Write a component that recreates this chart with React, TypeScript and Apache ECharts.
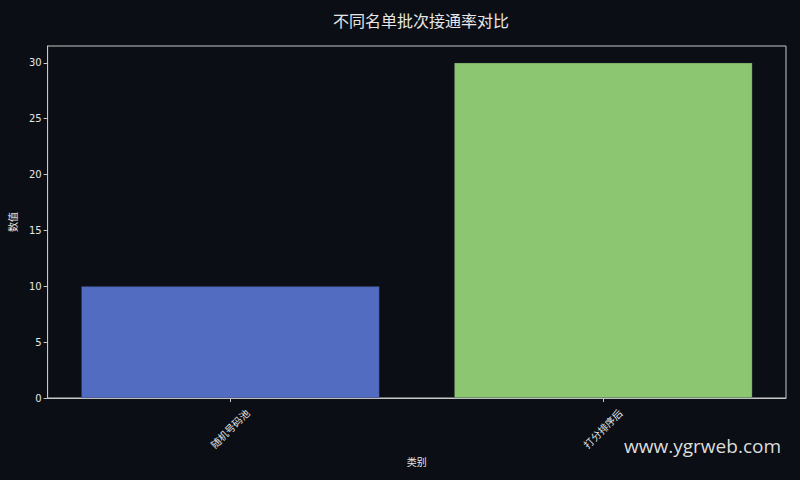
import * as React from 'react';
import * as echarts from 'echarts';

// chart data
const categories = ['随机号码池', '打分排序后'];
const values = [10, 30];
const barColors = ['#5470c6', '#91cc75'];
const yTicks = [0, 5, 10, 15, 20, 25, 30];

const FONT = "'DejaVu Sans', 'Noto Sans CJK SC', sans-serif";
const TEXT = '#e6e6e6';
const SPINE = '#c8c8c8';

export default function App() {
  const chartRef = React.useRef<HTMLDivElement>(null);

  React.useEffect(() => {
    document.body.style.margin = '0';
    document.body.style.background = '#0b0e14';
    if (!chartRef.current) return;
    const chart = echarts.init(chartRef.current, undefined, { renderer: 'svg' });

    // x positions of categories (index), padded like matplotlib's 5% margin
    const xIdx = categories.map((_, i) => i);

    chart.setOption({
      animation: false,
      backgroundColor: '#0b0e14',
      title: {
        text: '不同名单批次接通率对比',
        left: 416,
        top: 7,
        textAlign: 'center',
        textStyle: {
          color: TEXT,
          fontSize: 16,
          fontWeight: 'normal',
          fontFamily: "'Noto Sans CJK SC', sans-serif",
        },
      },
      grid: {
        left: 46,
        right: 14,
        top: 46,
        bottom: 82,
        show: true,
        borderColor: SPINE,
        borderWidth: 1,
        backgroundColor: 'transparent',
      },
      xAxis: {
        type: 'value',
        min: -0.49,
        max: 1.49,
        name: '类别',
        nameLocation: 'middle',
        nameGap: 59,
        nameTextStyle: { color: TEXT, fontSize: 10, fontFamily: FONT },
        axisLine: { show: true, onZero: false, lineStyle: { color: SPINE, width: 1 } },
        axisTick: { show: true, length: 4, lineStyle: { color: SPINE }, customValues: xIdx },
        axisLabel: {
          rotate: 45,
          align: 'center',
          verticalAlign: 'middle',
          color: TEXT,
          fontSize: 10,
          margin: 31,
          fontFamily: FONT,
          customValues: xIdx,
          formatter: (v: number) => categories[Math.round(v)] ?? '',
        },
        splitLine: { show: false },
      },
      yAxis: {
        type: 'value',
        min: 0,
        max: 31.5,
        name: '数值',
        nameLocation: 'middle',
        nameGap: 28,
        nameTextStyle: { color: TEXT, fontSize: 10, fontFamily: FONT },
        axisLine: { show: true, onZero: false, lineStyle: { color: SPINE, width: 1 } },
        axisTick: { show: true, length: 4, lineStyle: { color: SPINE }, customValues: yTicks },
        axisLabel: {
          color: TEXT,
          fontSize: 10,
          margin: 6,
          fontFamily: FONT,
          customValues: yTicks,
        },
        splitLine: { show: false },
      },
      series: [
        {
          type: 'bar',
          barWidth: '80%',
          data: values.map((v, i) => ({
            value: [xIdx[i], v],
            itemStyle: {
              color: barColors[i],
              opacity: 0.97,
              borderColor: 'rgba(40,50,70,0.5)',
              borderWidth: 0.6,
            },
          })),
        },
      ],
      graphic: [
        {
          type: 'text',
          right: 19,
          top: 436,
          style: {
            text: 'www.ygrweb.com',
            fill: '#dcdcdc',
            fontSize: 19,
            fontFamily: "'Open Sans', 'Noto Sans', sans-serif",
          },
        },
      ],
    });

    return () => chart.dispose();
  }, []);

  return <div ref={chartRef} style={{ width: 800, height: 480 }} />;
}
